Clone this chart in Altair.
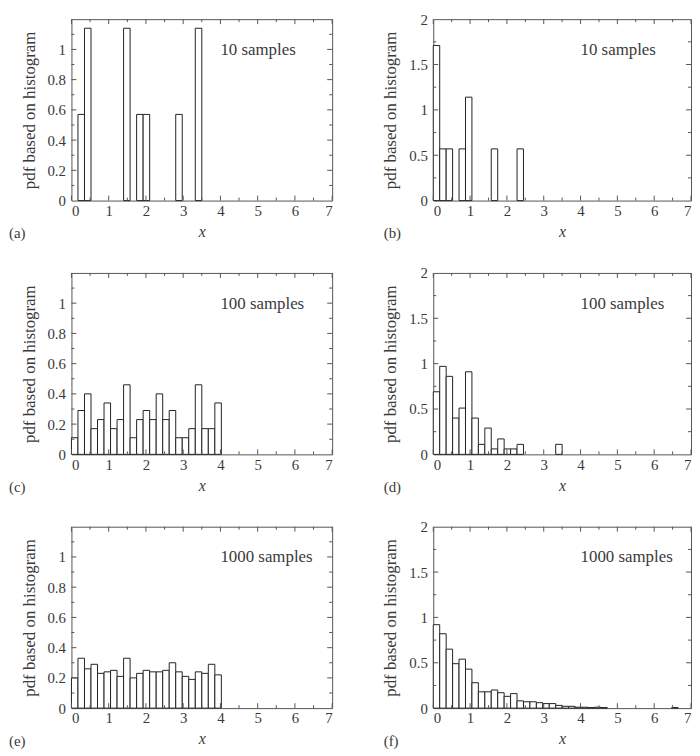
import altair as alt
import pandas as pd

BIN_W = 0.175  # histogram bin width (40 bins over 0..7)

# (a) uniform, 10 samples
a_bins = [1, 2, 8, 10, 11, 16, 19]
a_dens = [0.57, 1.14, 1.14, 0.57, 0.57, 0.57, 1.14]
# (b) exponential, 10 samples
b_bins = [0, 1, 2, 4, 5, 9, 13]
b_dens = [1.71, 0.57, 0.57, 0.57, 1.14, 0.57, 0.57]
# (c) uniform, 100 samples
c_bins = list(range(23))
c_dens = [0.11, 0.29, 0.40, 0.17, 0.23, 0.34, 0.17, 0.23, 0.46, 0.11, 0.23, 0.29,
          0.23, 0.40, 0.23, 0.29, 0.11, 0.11, 0.17, 0.46, 0.17, 0.17, 0.34]
# (d) exponential, 100 samples
d_bins = list(range(14)) + [19]
d_dens = [0.69, 0.97, 0.86, 0.40, 0.51, 0.91, 0.40, 0.11, 0.29, 0.06, 0.17, 0.06,
          0.06, 0.11, 0.11]
# (e) uniform, 1000 samples
e_bins = list(range(23))
e_dens = [0.20, 0.33, 0.26, 0.29, 0.23, 0.24, 0.25, 0.21, 0.33, 0.20, 0.23, 0.25,
          0.24, 0.24, 0.25, 0.30, 0.24, 0.21, 0.19, 0.24, 0.23, 0.29, 0.22]
# (f) exponential, 1000 samples
f_bins = list(range(27)) + [37]
f_dens = [0.92, 0.82, 0.65, 0.49, 0.54, 0.43, 0.28, 0.18, 0.18, 0.20, 0.17, 0.13,
          0.16, 0.08, 0.07, 0.07, 0.06, 0.05, 0.05, 0.03, 0.02, 0.02, 0.01, 0.01,
          0.006, 0.01, 0.006, 0.006]

x_labels = [0, 1, 2, 3, 4, 5, 6, 7]
x_major = [0, 1, 2, 3, 4, 5, 6, 7]
x_minor = [0.5, 1.5, 2.5, 3.5, 4.5, 5.5, 6.5]

left_y_labels = [0, 0.2, 0.4, 0.6, 0.8, 1]
left_y_major = [0.2, 0.4, 0.6, 0.8, 1.0]
left_y_minor = [0.1, 0.3, 0.5, 0.7, 0.9, 1.1]
right_y_labels = [0, 0.5, 1, 1.5, 2]
right_y_major = [0.5, 1.0, 1.5]
right_y_minor = [0.25, 0.75, 1.25, 1.75]

FONT = "Liberation Serif"
TXT = "#3a3a3a"
BAR = "#222222"
FRAME = "#555555"
PH = 183


def panel(bins, dens, ymax, ylabels, ymaj, ymin, note, tag, tagx, pw):
    df = pd.DataFrame({
        "x0": [b * BIN_W for b in bins],
        "x1": [(b + 1) * BIN_W for b in bins],
        "d": dens,
    })
    xs = alt.Scale(domain=[0, 7], nice=False, zero=False)
    ys = alt.Scale(domain=[0, ymax], nice=False)
    xa = alt.Axis(values=x_labels, title="x", format="d", ticks=False,
                  domain=False, grid=False, labelPadding=3,
                  labelFont=FONT, labelFontSize=15, labelColor=TXT,
                  titleFont=FONT, titleFontSize=16, titleColor=TXT,
                  titleFontWeight="normal", titleFontStyle="italic", titlePadding=5)
    ya = alt.Axis(values=ylabels, title="pdf based on histogram",
                  format="~g", ticks=False, domain=False, grid=False,
                  labelPadding=6, labelFont=FONT, labelFontSize=15, labelColor=TXT,
                  titleFont=FONT, titleFontSize=17, titleColor=TXT,
                  titleFontWeight="normal", titlePadding=9)

    bars = alt.Chart(df).mark_rect(fill="white", stroke=BAR, strokeWidth=1).encode(
        x=alt.X("x0:Q", scale=xs, axis=xa),
        x2="x1:Q",
        y=alt.Y("d:Q", scale=ys, axis=ya),
        y2=alt.datum(0),
    )

    layers = [bars]

    def xt(vals, length):
        d = pd.DataFrame({"x0": vals})
        bot = alt.Chart(d).mark_rule(color=FRAME, strokeWidth=1).encode(
            x=alt.X("x0:Q", scale=xs, axis=xa),
            y=alt.value(PH), y2=alt.value(PH - length))
        top = alt.Chart(d).mark_rule(color=FRAME, strokeWidth=1).encode(
            x=alt.X("x0:Q", scale=xs, axis=xa),
            y=alt.value(0), y2=alt.value(length))
        return [bot, top]

    def yt(vals, length):
        d = pd.DataFrame({"d": vals})
        lft = alt.Chart(d).mark_rule(color=FRAME, strokeWidth=1).encode(
            y=alt.Y("d:Q", scale=ys, axis=ya),
            x=alt.value(0), x2=alt.value(length))
        rgt = alt.Chart(d).mark_rule(color=FRAME, strokeWidth=1).encode(
            y=alt.Y("d:Q", scale=ys, axis=ya),
            x=alt.value(pw), x2=alt.value(pw - length))
        return [lft, rgt]

    layers += xt(x_major, 5) + xt(x_minor, 3) + yt(ymaj, 5) + yt(ymin, 3)

    note_layer = alt.Chart(pd.DataFrame({"t": [note]})).mark_text(
        align="left", baseline="middle", font=FONT, fontSize=17, color=TXT
    ).encode(x=alt.value(4.0 / 7 * pw), y=alt.value(31), text="t:N")
    tag_layer = alt.Chart(pd.DataFrame({"t": [tag]})).mark_text(
        align="left", baseline="middle", font=FONT, fontSize=15, color=TXT
    ).encode(x=alt.value(tagx), y=alt.value(PH + 33), text="t:N")
    layers += [note_layer, tag_layer]

    return alt.layer(*layers).properties(width=pw, height=PH)


LW = 263
RW = 260

pa = panel(a_bins, a_dens, 1.2, left_y_labels, left_y_major, left_y_minor, "10 samples", "(a)", -63, LW)
pb = panel(b_bins, b_dens, 2.0, right_y_labels, right_y_major, right_y_minor, "10 samples", "(b)", -50, RW)
pc = panel(c_bins, c_dens, 1.2, left_y_labels, left_y_major, left_y_minor, "100 samples", "(c)", -63, LW)
pd_ = panel(d_bins, d_dens, 2.0, right_y_labels, right_y_major, right_y_minor, "100 samples", "(d)", -50, RW)
pe = panel(e_bins, e_dens, 1.2, left_y_labels, left_y_major, left_y_minor, "1000 samples", "(e)", -63, LW)
pf = panel(f_bins, f_dens, 2.0, right_y_labels, right_y_major, right_y_minor, "1000 samples", "(f)", -50, RW)

chart = alt.concat(
    pa, pb, pc, pd_, pe, pf, columns=2,
    spacing={"row": 73, "column": 102}, bounds="flush",
).properties(
    padding={"left": 0, "top": 0, "right": 0, "bottom": 0},
    background="white",
).configure_view(
    stroke=FRAME, strokeWidth=1
)

chart.save("out.html", embed_options={"renderer": "svg", "actions": False})
